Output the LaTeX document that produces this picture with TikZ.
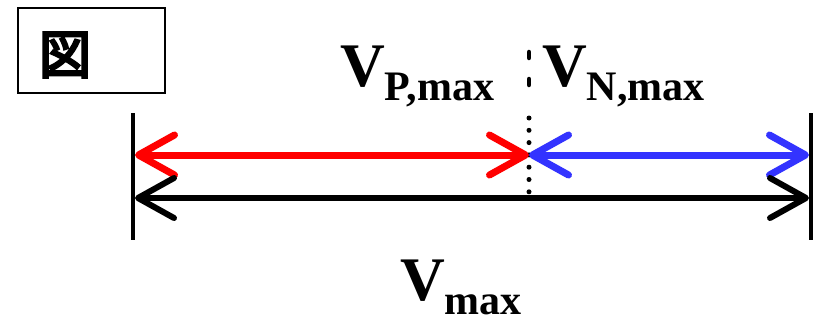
\documentclass[tikz,border=0pt]{standalone}
\usepackage{fontspec}
\setmainfont{Liberation Serif}
\newfontfamily\cjk{Noto Sans CJK JP}[FakeBold=5]
\usetikzlibrary{arrows.meta}
\definecolor{myred}{RGB}{255,0,0}
\definecolor{myblue}{RGB}{51,51,255}
\tikzset{
  barb/.style={line cap=round, arrows={Straight Barb[round,length=36pt,width=40pt]-Straight Barb[round,length=36pt,width=40pt]}},
  bigv/.style={inner sep=0pt, anchor=base west, font=\fontsize{62}{62}\selectfont\bfseries},
  wall/.style={line width=4pt},
}
\newcommand{\subtxt}[1]{\raisebox{-14pt}[0pt][0pt]{\fontsize{42}{42}\selectfont\bfseries #1}}
\begin{document}
\begin{tikzpicture}[x=1pt,y=-1pt]
\useasboundingbox (0,0) rectangle (818,321);
% label box
\node[draw, line width=1.2pt, minimum width=147pt, minimum height=85pt, inner sep=0pt] (box) at (91.5,50.5) {};
\node[inner sep=0pt, font=\fontsize{52}{52}\selectfont\cjk] (zu) at (65,55) {図};
% walls
\coordinate (LT) at (133,113); \coordinate (LB) at (133,240);
\coordinate (RT) at (811,113); \coordinate (RB) at (811,240);
\draw[wall] (LT) -- (LB);
\draw[wall] (RT) -- (RB);
% points
\coordinate (rl) at (135,155);
\coordinate (mid) at (529,155);
\coordinate (br) at (809,155);
\coordinate (kl) at (135,198);
\coordinate (kr) at (809,198);
% dotted divider
\coordinate (d1) at (529,52); \coordinate (d2) at (529,88);
\coordinate (d3) at (529,118); \coordinate (d4) at (529,194);
\draw[line width=4.5pt, line cap=round, dash pattern=on 6pt off 21pt] (d1) -- (d2);
\draw[line width=5pt, line cap=round, dash pattern=on 0pt off 12.3pt] (d3) -- (d4);
% arrows
\draw[barb, myred, line width=7pt] (rl) -- (mid);
\draw[barb, myblue, line width=7pt] (mid) -- (br);
\draw[barb, black, line width=6pt] (kl) -- (kr);
% labels
\node[bigv] (vp) at (340,86) {V\subtxt{P,max}};
\node[bigv] (vn) at (542,86) {V\subtxt{N,max}};
\node[bigv] (vm) at (400,300) {V\subtxt{max}};
\end{tikzpicture}
\end{document}
